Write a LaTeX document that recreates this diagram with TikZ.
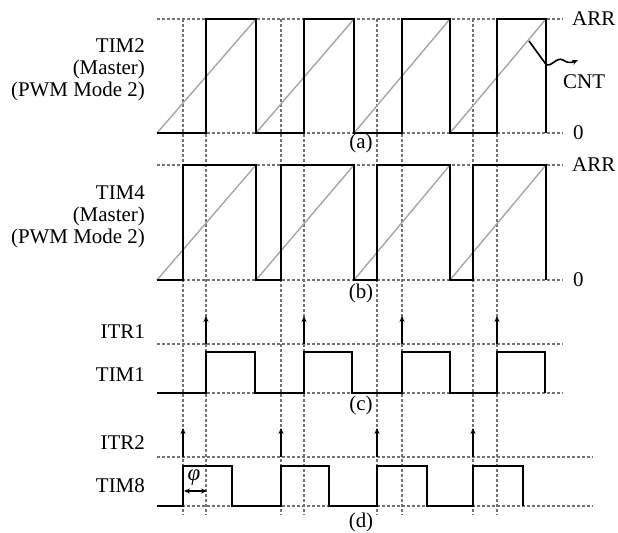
\documentclass[tikz,border=0pt]{standalone}
\usepackage{fontspec}
\setmainfont{Liberation Serif}
\usetikzlibrary{arrows.meta}
\begin{document}
\begin{tikzpicture}[x=1bp,y=-1bp,
  grid/.style={draw=black!55,line width=1.3bp,dash pattern=on 3bp off 2bp},
  saw/.style={draw=black!35,line width=1.4bp},
  wave/.style={draw=black,line width=2.3bp,line join=miter},
  trig/.style={draw=black,line width=1.6bp,-{Stealth[length=6bp,width=5bp]}},
  lbl/.style={font=\fontsize{21}{22}\selectfont,inner sep=0pt},
  sig/.style={lbl,anchor=east,align=right}]
\useasboundingbox (0,0) rectangle (618,533);
% vertical dashed lines
\foreach \x in {183,206,281,304,377,402,473,497}
  \draw[grid] (\x,19) -- (\x,515);
% horizontal dashed lines
\foreach \y in {19,133,165,280,344,393}
  \draw[grid] (157,\y) -- (563,\y);
\foreach \y in {457,506}
  \draw[grid] (157,\y) -- (593,\y);
% sawtooths
\foreach \a/\b in {157/256,256/354,354/450,450/546}{
  \draw[saw] (\a,133) -- (\b,19);
  \draw[saw] (\a,280) -- (\b,165);
}
% (a) TIM2 PWM
\draw[wave] (157,133) -- (206,133) -- (206,19) -- (256,19) -- (256,133) -- (304,133) -- (304,19) -- (354,19) -- (354,133) -- (402,133) -- (402,19) -- (450,19) -- (450,133) -- (497,133) -- (497,19) -- (546,19) -- (546,133);
% (b) TIM4 PWM
\draw[wave] (157,280) -- (183,280) -- (183,165) -- (256,165) -- (256,280) -- (281,280) -- (281,165) -- (354,165) -- (354,280) -- (377,280) -- (377,165) -- (450,165) -- (450,280) -- (473,280) -- (473,165) -- (546,165) -- (546,280);
% (c) TIM1
\draw[wave] (157,393) -- (206,393) -- (206,352) -- (255,352) -- (255,393) -- (304,393) -- (304,352) -- (352,352) -- (352,393) -- (402,393) -- (402,352) -- (450,352) -- (450,393) -- (497,393) -- (497,352) -- (545,352) -- (545,393);
\foreach \x in {206,304,402,497}
  \draw[trig] (\x,344) -- (\x,316);
% (d) TIM8
\draw[wave] (157,506) -- (183,506) -- (183,466) -- (232,466) -- (232,506) -- (281,506) -- (281,466) -- (329,466) -- (329,506) -- (377,506) -- (377,466) -- (427,466) -- (427,506) -- (473,506) -- (473,466) -- (523,466) -- (523,506);
\foreach \x in {183,281,377,473}
  \draw[trig] (\x,457) -- (\x,428);
% phi
\coordinate (phiA) at (184,491);
\coordinate (phiB) at (207,491);
\draw[draw=black,line width=1.6bp,{Stealth[length=6bp,width=5bp]}-{Stealth[length=6bp,width=5bp]}] (phiA) -- (phiB);
\node[inner sep=0pt,font=\fontsize{23}{23}\selectfont\itshape] (phi) at (194,478) {φ};
% CNT pointer
\coordinate (cntA) at (529,41);
\coordinate (cntB) at (545,63);
\node[lbl,anchor=west] (cnt) at (563,82) {CNT};
\draw[draw=black,line width=1.6bp,-{Stealth[length=6bp,width=5bp]}] (cntA) -- (cntB) .. controls (550,70) and (556,56) .. (563,60) .. controls (567,63) and (571,63) .. (578,60);
% right labels
\node[lbl,anchor=west] (arrA) at (572,19) {ARR};
\node[lbl,anchor=west] (zeroA) at (573,133) {0};
\node[lbl,anchor=west] (arrB) at (572,165) {ARR};
\node[lbl,anchor=west] (zeroB) at (573,280) {0};
% panel letters
\node[lbl] (pa) at (361,143) {(a)};
\node[lbl] (pb) at (361,293) {(b)};
\node[lbl] (pc) at (361,405) {(c)};
\node[lbl] (pd) at (361,522) {(d)};
% left labels
\node[sig] (tim2) at (145,70) {TIM2\\(Master)\\(PWM Mode 2)};
\node[sig] (tim4) at (145,217) {TIM4\\(Master)\\(PWM Mode 2)};
\node[sig] (itr1) at (145,332) {ITR1};
\node[sig] (tim1) at (145,375) {TIM1};
\node[sig] (itr2) at (145,443) {ITR2};
\node[sig] (tim8) at (145,486) {TIM8};
\end{tikzpicture}
\end{document}
